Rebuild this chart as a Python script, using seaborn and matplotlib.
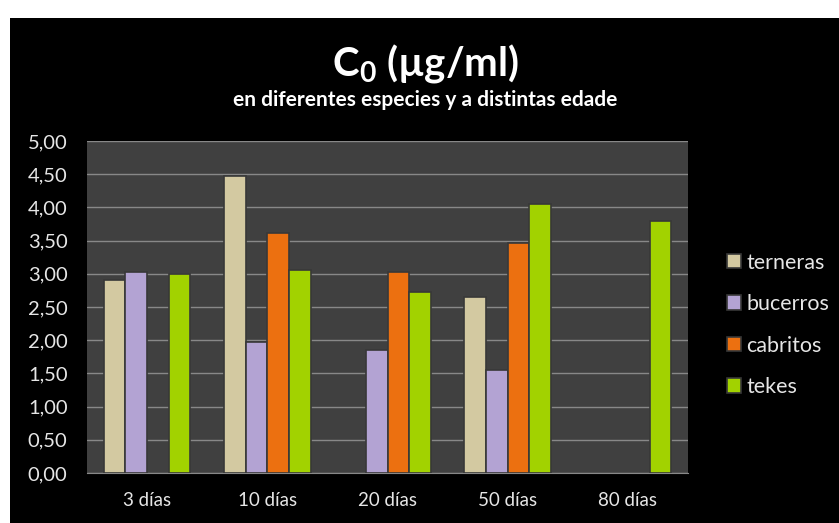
import numpy as np
import pandas as pd
import matplotlib.pyplot as plt
import seaborn as sns
from matplotlib.patches import Rectangle
from matplotlib.ticker import FuncFormatter

# ------------------------------------------------------------
# Data (NaN = no bar)
# ------------------------------------------------------------
edades = ['3 días', '10 días', '20 días', '50 días', '80 días']
especies = ['terneras', 'bucerros', 'cabritos', 'tekes']
terneras = [2.90, 4.47, np.nan, 2.65, np.nan]
bucerros = [3.02, 1.98, 1.85, 1.55, np.nan]
cabritos = [np.nan, 3.62, 3.02, 3.46, np.nan]
tekes = [3.00, 3.05, 2.73, 4.05, 3.80]
colores = ['#D3C9A1', '#B3A3D3', '#EC7010', '#A2D200']

df = pd.DataFrame({'edad': edades * 4,
                   'especie': np.repeat(especies, len(edades)),
                   'valor': terneras + bucerros + cabritos + tekes})

# ------------------------------------------------------------
# Figure
# ------------------------------------------------------------
sns.set_style('dark')
plt.rcParams['font.family'] = ['Lato', 'DejaVu Sans']
txt = '#E6E6E6'

fig = plt.figure(figsize=(8.39, 5.23), dpi=100, facecolor='black')
# white margin strips (top and left) as in the screenshot
fig.add_artist(Rectangle((0, 1 - 18 / 523), 1, 18 / 523, transform=fig.transFigure,
                         facecolor='white', edgecolor='none', zorder=-5))
fig.add_artist(Rectangle((0, 0), 10 / 839, 1, transform=fig.transFigure,
                         facecolor='white', edgecolor='none', zorder=-5))

ax = fig.add_axes([87 / 839, 50 / 523, 601 / 839, 332 / 523])
ax.set_facecolor('#404040')

sns.barplot(data=df, x='edad', y='valor', hue='especie', hue_order=especies,
            palette=colores, width=0.72, edgecolor='#383838', linewidth=1.2,
            saturation=1, ax=ax, zorder=3)

ax.set_ylim(0, 5)
ax.set_yticks(np.arange(0, 5.01, 0.5))
ax.yaxis.set_major_formatter(FuncFormatter(lambda v, p: f'{v:.2f}'.replace('.', ',')))
ax.grid(axis='y', color='#888888', linewidth=1, zorder=1)
ax.grid(axis='x', visible=False)
ax.set_xlabel('')
ax.set_ylabel('')
ax.tick_params(axis='both', colors=txt, length=0)
ax.tick_params(axis='x', pad=14, labelsize=13.5)
ax.tick_params(axis='y', pad=14, labelsize=14.5)
for side in ['top', 'right', 'left']:
    ax.spines[side].set_visible(False)
ax.spines['bottom'].set_color('#888888')

handles, labels = ax.get_legend_handles_labels()
ax.legend(handles, labels, loc='center left', bbox_to_anchor=(1.065, 0.446),
          frameon=False, labelcolor=txt, fontsize=15.5, handlelength=0.65,
          handleheight=0.65, handletextpad=0.25, labelspacing=1.0,
          borderaxespad=0, borderpad=0)

fig.text(0.507, 0.878, r'C$_\mathregular{0}$ (µg/ml)', color='white', fontsize=29,
         fontweight='bold', ha='center', va='center')
fig.text(0.507, 0.808, 'en diferentes especies y a distintas edade', color='white',
         fontsize=15, fontweight='bold', ha='center', va='center')

fig.savefig('out.png', dpi=100, facecolor=fig.get_facecolor())
